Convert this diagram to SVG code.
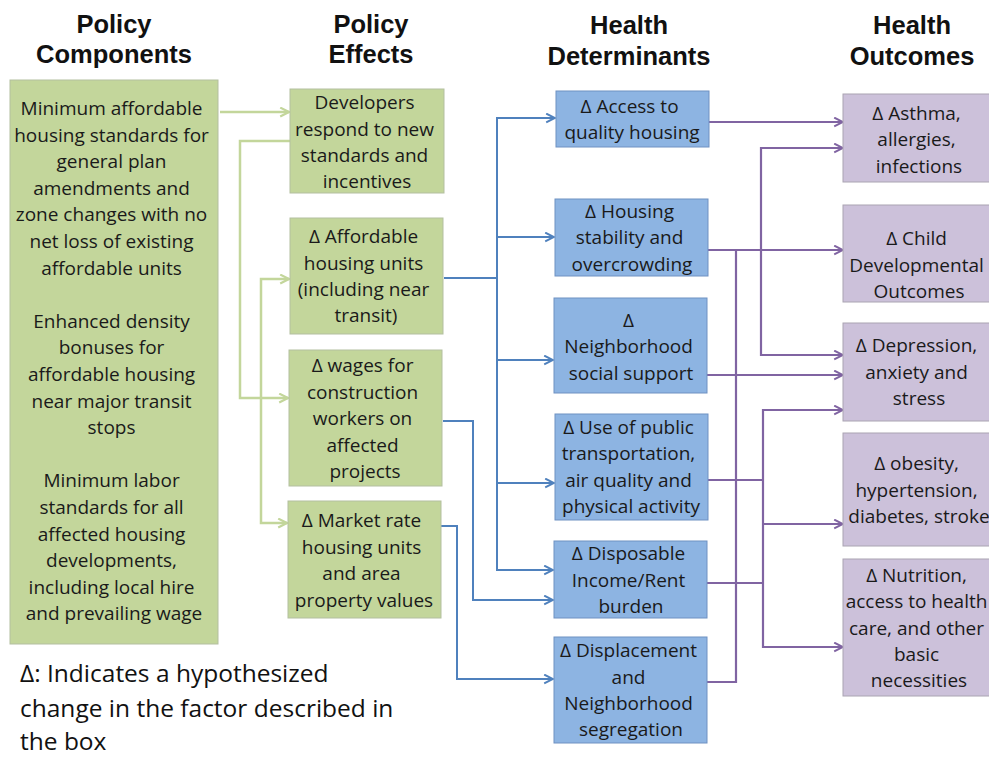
<svg xmlns="http://www.w3.org/2000/svg" width="989" height="758" viewBox="0 0 989 758">
  <style>
    .head { font-family: "Liberation Sans", Arial, sans-serif; font-weight: bold; font-size: 25.5px; fill: #111; text-anchor: middle; }
    .t { font-family: "Open Sans", "Noto Sans", sans-serif; font-size: 19px; fill: #1a1a1a; text-anchor: middle; }
    .note { font-family: "Open Sans", "Noto Sans", sans-serif; font-size: 24.5px; fill: #111; }
    .green { fill: #c3d69b; stroke: #b3bfa0; stroke-width: 1; }
    .blue { fill: #8db4e2; stroke: #6f91c2; stroke-width: 1; }
    .purple { fill: #ccc1da; stroke: #aaa4b2; stroke-width: 1; }
    .cg { fill: none; stroke: #c3d69b; stroke-width: 2.5; }
    .cb { fill: none; stroke: #4f81bd; stroke-width: 2; }
    .cp { fill: none; stroke: #8064a2; stroke-width: 2.2; }
  </style>
  <defs>
    <marker id="ah-green" viewBox="0 0 10 10" refX="9" refY="5" markerWidth="11" markerHeight="11" markerUnits="userSpaceOnUse" orient="auto">
      <path d="M1,1 L9,5 L1,9" fill="none" stroke="#c3d69b" stroke-width="2"/>
    </marker>
    <marker id="ah-blue" viewBox="0 0 10 10" refX="9" refY="5" markerWidth="11" markerHeight="11" markerUnits="userSpaceOnUse" orient="auto">
      <path d="M1,1 L9,5 L1,9" fill="none" stroke="#4f81bd" stroke-width="1.8"/>
    </marker>
    <marker id="ah-purple" viewBox="0 0 10 10" refX="9" refY="5" markerWidth="11" markerHeight="11" markerUnits="userSpaceOnUse" orient="auto">
      <path d="M1,1 L9,5 L1,9" fill="none" stroke="#8064a2" stroke-width="1.8"/>
    </marker>
  </defs>

  <rect width="989" height="758" fill="#ffffff"/>

  <!-- column headings -->
  <g id="headings">
    <text class="head" x="114" y="33">Policy</text>
    <text class="head" x="114" y="63">Components</text>
    <text class="head" x="371" y="33">Policy</text>
    <text class="head" x="371" y="63">Effects</text>
    <text class="head" x="629" y="34">Health</text>
    <text class="head" x="629" y="65">Determinants</text>
    <text class="head" x="912" y="34">Health</text>
    <text class="head" x="912" y="65">Outcomes</text>
  </g>

  <!-- connectors -->
  <g id="connectors">
    <!-- policy components to policy effects -->
    <path class="cg" d="M220,112 H289" marker-end="url(#ah-green)"/>
    <path class="cg" d="M290,141 H240 V398 H288" marker-end="url(#ah-green)"/>
    <path class="cg" d="M261,400 V279 H289" marker-end="url(#ah-green)"/>
    <path class="cg" d="M261,400 V523 H287" marker-end="url(#ah-green)"/>

    <!-- policy effects to health determinants -->
    <path class="cb" d="M444,278 H497"/>
    <path class="cb" d="M497,278 V118 H555" marker-end="url(#ah-blue)"/>
    <path class="cb" d="M497,237 H554" marker-end="url(#ah-blue)"/>
    <path class="cb" d="M497,278 V570 H553" marker-end="url(#ah-blue)"/>
    <path class="cb" d="M497,360 H553" marker-end="url(#ah-blue)"/>
    <path class="cb" d="M497,483 H554" marker-end="url(#ah-blue)"/>
    <path class="cb" d="M443,421 H473 V600 H553" marker-end="url(#ah-blue)"/>
    <path class="cb" d="M441,526 H457 V679 H553" marker-end="url(#ah-blue)"/>

    <!-- health determinants to health outcomes -->
    <path class="cp" d="M709,122 H843" marker-end="url(#ah-purple)"/>
    <path class="cp" d="M708,250 H843" marker-end="url(#ah-purple)"/>
    <path class="cp" d="M761,250 V148 H843" marker-end="url(#ah-purple)"/>
    <path class="cp" d="M761,250 V355 H843" marker-end="url(#ah-purple)"/>
    <path class="cp" d="M707,682 H736 V250"/>
    <path class="cp" d="M707,375 H843" marker-end="url(#ah-purple)"/>
    <path class="cp" d="M708,480 H763"/>
    <path class="cp" d="M707,583 H763"/>
    <path class="cp" d="M763,524 V410 H843" marker-end="url(#ah-purple)"/>
    <path class="cp" d="M763,524 H843" marker-end="url(#ah-purple)"/>
    <path class="cp" d="M763,524 V647 H843" marker-end="url(#ah-purple)"/>
  </g>

  <!-- policy components -->
  <g id="policy-components">
    <rect class="green" x="10" y="80" width="208" height="564"/>
    <text class="t">
      <tspan x="114" y="115">Minimum affordable</tspan>
      <tspan x="114" y="141.6">housing standards for</tspan>
      <tspan x="114" y="168.2">general plan</tspan>
      <tspan x="114" y="194.8">amendments and</tspan>
      <tspan x="114" y="221.4">zone changes with no</tspan>
      <tspan x="114" y="248">net loss of existing</tspan>
      <tspan x="114" y="274.6">affordable units</tspan>
      <tspan x="114" y="327.8">Enhanced density</tspan>
      <tspan x="114" y="354.4">bonuses for</tspan>
      <tspan x="114" y="381">affordable housing</tspan>
      <tspan x="114" y="407.6">near major transit</tspan>
      <tspan x="114" y="434.2">stops</tspan>
      <tspan x="114" y="487.4">Minimum labor</tspan>
      <tspan x="114" y="514">standards for all</tspan>
      <tspan x="114" y="540.6">affected housing</tspan>
      <tspan x="114" y="567.2">developments,</tspan>
      <tspan x="114" y="593.8">including local hire</tspan>
      <tspan x="114" y="620.4">and prevailing wage</tspan>
    </text>
  </g>

  <!-- policy effects -->
  <g id="developers">
    <rect class="green" x="290" y="89" width="154" height="104"/>
    <text class="t">
      <tspan x="367" y="109">Developers</tspan>
      <tspan x="367" y="135.5">respond to new</tspan>
      <tspan x="367" y="162">standards and</tspan>
      <tspan x="367" y="188">incentives</tspan>
    </text>
  </g>
  <g id="affordable-units">
    <rect class="green" x="290" y="218" width="153" height="116"/>
    <text class="t">
      <tspan x="366" y="243">Δ Affordable</tspan>
      <tspan x="366" y="269.5">housing units</tspan>
      <tspan x="366" y="296">(including near</tspan>
      <tspan x="366" y="322">transit)</tspan>
    </text>
  </g>
  <g id="wages">
    <rect class="green" x="289" y="350" width="153" height="136"/>
    <text class="t">
      <tspan x="365" y="372">Δ wages for</tspan>
      <tspan x="365" y="398.5">construction</tspan>
      <tspan x="365" y="425">workers on</tspan>
      <tspan x="365" y="451.5">affected</tspan>
      <tspan x="365" y="478">projects</tspan>
    </text>
  </g>
  <g id="market-rate">
    <rect class="green" x="288" y="501" width="153" height="117"/>
    <text class="t">
      <tspan x="364" y="527">Δ Market rate</tspan>
      <tspan x="364" y="553.5">housing units</tspan>
      <tspan x="364" y="580">and area</tspan>
      <tspan x="364" y="606.5">property values</tspan>
    </text>
  </g>

  <!-- health determinants -->
  <g id="access-housing">
    <rect class="blue" x="556" y="91" width="153" height="56"/>
    <text class="t">
      <tspan x="632" y="113">Δ Access to</tspan>
      <tspan x="632" y="139">quality housing</tspan>
    </text>
  </g>
  <g id="housing-stability">
    <rect class="blue" x="555" y="199" width="153" height="77"/>
    <text class="t">
      <tspan x="632" y="217.5">Δ Housing</tspan>
      <tspan x="632" y="244">stability and</tspan>
      <tspan x="632" y="270.5">overcrowding</tspan>
    </text>
  </g>
  <g id="social-support">
    <rect class="blue" x="554" y="298" width="153" height="95"/>
    <text class="t">
      <tspan x="631" y="327">Δ</tspan>
      <tspan x="631" y="353">Neighborhood</tspan>
      <tspan x="631" y="379.5">social support</tspan>
    </text>
  </g>
  <g id="public-transport">
    <rect class="blue" x="555" y="414" width="153" height="106"/>
    <text class="t">
      <tspan x="631" y="433.5">Δ Use of public</tspan>
      <tspan x="631" y="460">transportation,</tspan>
      <tspan x="631" y="486.5">air quality  and</tspan>
      <tspan x="631" y="513">physical activity</tspan>
    </text>
  </g>
  <g id="disposable-income">
    <rect class="blue" x="554" y="541" width="153" height="77"/>
    <text class="t">
      <tspan x="631" y="560">Δ Disposable</tspan>
      <tspan x="631" y="586.5">Income/Rent</tspan>
      <tspan x="631" y="613">burden</tspan>
    </text>
  </g>
  <g id="displacement">
    <rect class="blue" x="554" y="637" width="153" height="106"/>
    <text class="t">
      <tspan x="631" y="657">Δ Displacement</tspan>
      <tspan x="631" y="683.5">and</tspan>
      <tspan x="631" y="710">Neighborhood</tspan>
      <tspan x="631" y="736">segregation</tspan>
    </text>
  </g>

  <!-- health outcomes -->
  <g id="asthma">
    <rect class="purple" x="843" y="94" width="152" height="88"/>
    <text class="t">
      <tspan x="919" y="119.5">Δ Asthma,</tspan>
      <tspan x="919" y="146">allergies,</tspan>
      <tspan x="919" y="172.5">infections</tspan>
    </text>
  </g>
  <g id="child-development">
    <rect class="purple" x="843" y="205" width="152" height="97"/>
    <text class="t">
      <tspan x="919" y="245">Δ Child</tspan>
      <tspan x="919" y="271.5">Developmental</tspan>
      <tspan x="919" y="297.5">Outcomes</tspan>
    </text>
  </g>
  <g id="depression">
    <rect class="purple" x="843" y="323" width="152" height="98"/>
    <text class="t">
      <tspan x="919" y="352">Δ Depression,</tspan>
      <tspan x="919" y="378.5">anxiety and</tspan>
      <tspan x="919" y="404.5">stress</tspan>
    </text>
  </g>
  <g id="obesity">
    <rect class="purple" x="843" y="433" width="152" height="113"/>
    <text class="t">
      <tspan x="919" y="470">Δ obesity,</tspan>
      <tspan x="919" y="496.5">hypertension,</tspan>
      <tspan x="919" y="523">diabetes, stroke</tspan>
    </text>
  </g>
  <g id="nutrition">
    <rect class="purple" x="843" y="559" width="152" height="137"/>
    <text class="t">
      <tspan x="919" y="582">Δ Nutrition,</tspan>
      <tspan x="919" y="608">access to health</tspan>
      <tspan x="919" y="634.5">care, and other</tspan>
      <tspan x="919" y="661">basic</tspan>
      <tspan x="919" y="687">necessities</tspan>
    </text>
  </g>

  <!-- legend note -->
  <g id="legend">
    <text class="note">
      <tspan x="20" y="682">Δ: Indicates a hypothesized</tspan>
      <tspan x="20" y="716.5">change in the factor described in</tspan>
      <tspan x="20" y="750">the box</tspan>
    </text>
  </g>
</svg>
